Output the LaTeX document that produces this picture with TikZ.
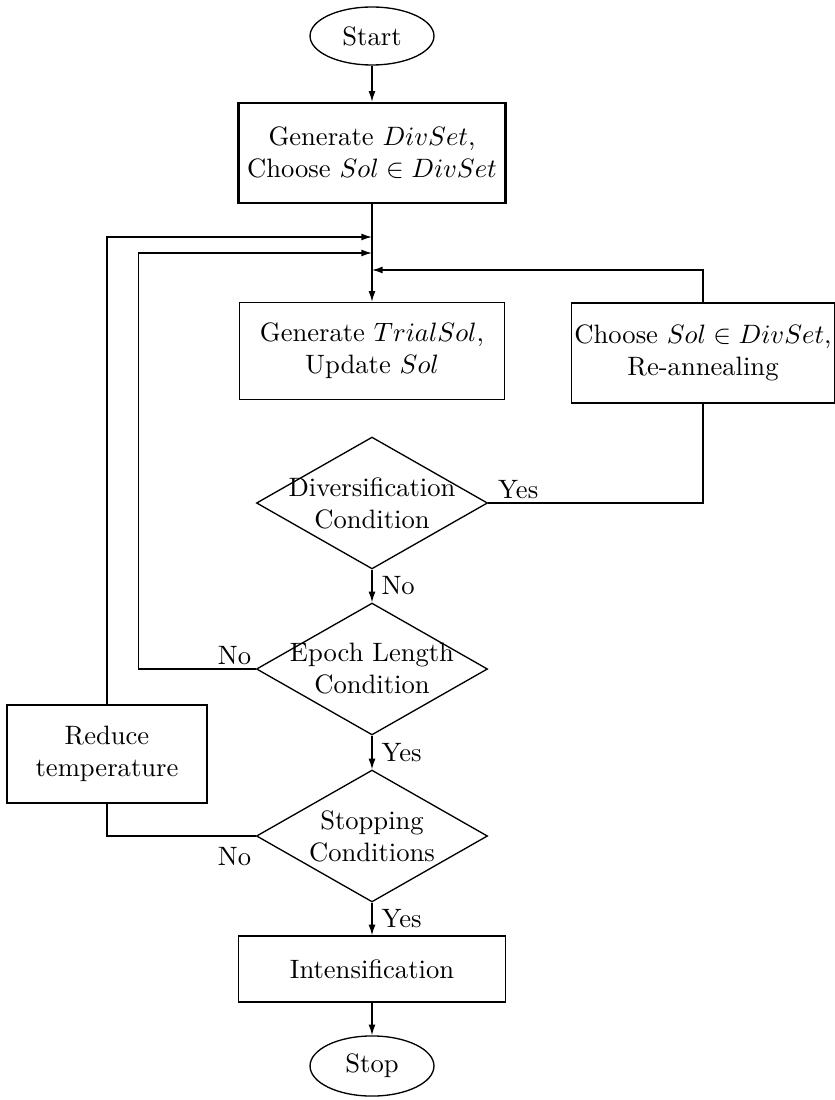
\documentclass[tikz,border=0pt]{standalone}
\usetikzlibrary{shapes.geometric, arrows.meta}
\begin{document}
\begin{tikzpicture}[x=0.376pt, y=-0.376pt, >={Latex[length=4pt, width=2.6pt]}, line width=0.5pt]
	\tikzstyle{terminal} = [ellipse, draw=black, minimum width=46.6pt, minimum height=21.8pt, inner sep=0pt]
	\tikzstyle{process}  = [rectangle, draw=black, align=center, minimum height=36.5pt, inner xsep=1pt]
	\tikzstyle{decision} = [diamond, draw=black, align=center, aspect=1.75, inner sep=-3pt, minimum width=86.9pt, minimum height=49.6pt]

	\useasboundingbox (0,0) rectangle (835,1100);

	% main column
	\node[terminal] (start) at (372, 36) {Start};
	\node[process, line width=0.9pt, minimum width=100.4pt, minimum height=37.6pt] (init) at (372, 153) {Generate $DivSet$,\\ Choose $Sol \in DivSet$};
	\node[process, minimum width=99.6pt] (trial) at (372, 351) {Generate $TrialSol$,\\ Update $Sol$};
	\node[decision] (div) at (372, 503) {Diversification\\ Condition};
	\node[decision] (epoch) at (372, 669) {Epoch Length\\ Condition};
	\node[decision] (stopc) at (372, 836) {Stopping\\ Conditions};
	\node[process, minimum width=100.4pt, minimum height=24.8pt] (intens) at (372, 969) {Intensification};
	\node[terminal, minimum height=22.6pt] (stop) at (372, 1066) {Stop};

	% side boxes
	\node[process, minimum width=98.5pt, minimum height=37.6pt] (reanneal) at (703, 353) {Choose $Sol \in DivSet$,\\ Re-annealing};
	\node[process, minimum width=75.2pt, minimum height=36.8pt] (reduce) at (107, 754) {Reduce\\ temperature};

	\coordinate (j1) at (372, 237);
	\coordinate (j2) at (372, 253);
	\coordinate (j3) at (372, 270);

	\foreach \from/\to in {start/init, init/trial, intens/stop}
		\draw[->] (\from) -- (\to);

	\foreach \from/\to/\lab in {div/epoch/No, epoch/stopc/Yes, stopc/intens/Yes}
		\path[->] (\from) edge node[right] {\lab} (\to);

	% loops back to the top
	\draw[->] (reduce.north) |- (j1);
	\draw[->] (epoch.west) node[anchor=south east, inner sep=1.5pt] {No} -- ++(-117, 0) |- (j2);
	\draw[->] (reanneal.north) |- (j3);
	\draw (div.east) node[anchor=south west, inner xsep=3.5pt, inner ysep=1.5pt] {Yes} -| (reanneal.south);
	\draw (stopc.west) node[anchor=north east, inner xsep=1.5pt, inner ysep=4pt] {No} -| (reduce.south);

\end{tikzpicture}
\end{document}
